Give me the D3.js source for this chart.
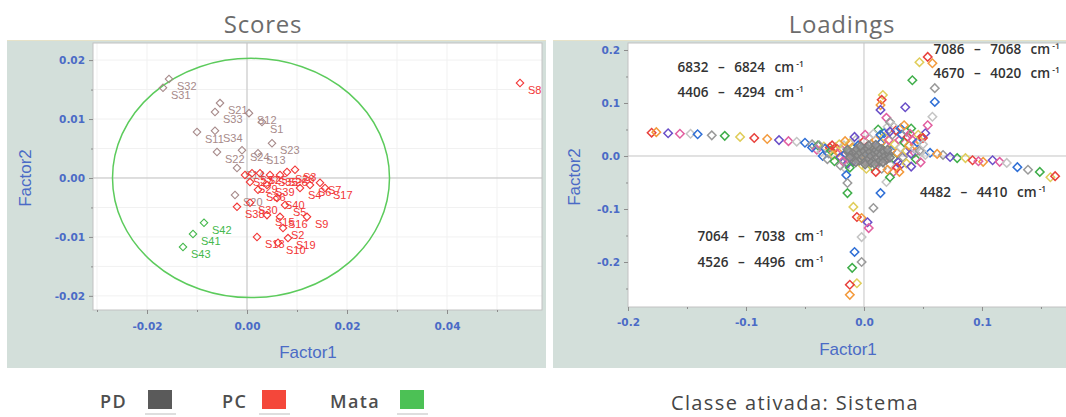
<!DOCTYPE html>
<html>
<head>
<meta charset="utf-8">
<script src="https://cdn.jsdelivr.net/npm/d3@7"></script>
<style>
  html, body { margin: 0; padding: 0; background: #fff; }
  svg { display: block; }
</style>
</head>
<body>
<svg id="chart" width="1066" height="417"></svg>
<script>
// ---------- Scores: samples on Factor1 / Factor2 ----------
// [label, factor1, factor2]
const pdSamples = [
  ["S32", -0.0156, 0.0168], ["S31", -0.0168, 0.0153], ["S21", -0.0054, 0.0127],
  ["S33", -0.0064, 0.0112], ["S12", 0.0004, 0.0110], ["S1", 0.0030, 0.0095],
  ["S11", -0.0100, 0.0078], ["S34", -0.0064, 0.0080], ["S23", 0.0050, 0.0059],
  ["S22", -0.0060, 0.0044], ["S24", -0.0010, 0.0047], ["S13", 0.0022, 0.0042],
  ["S14", -0.0020, 0.0017], ["S20", -0.0024, -0.0029]
];
const pcSamples = [
  ["S27", -0.0004, 0.0005], ["S37", 0.0010, 0.0008], ["S25", 0.0026, 0.0008],
  ["S35", 0.0046, 0.0005], ["S26", 0.0066, 0.0005], ["S28", 0.0080, 0.0010],
  ["S3", 0.0096, 0.0014], ["S29", 0.0006, -0.0007], ["S39", 0.0040, -0.0012],
  ["S36", 0.0022, -0.0020], ["S4", 0.0106, -0.0017], ["S6", 0.0126, -0.0012],
  ["S7", 0.0146, -0.0008], ["S17", 0.0156, -0.0017], ["S40", 0.0060, -0.0034],
  ["S5", 0.0076, -0.0046], ["S30", 0.0006, -0.0042], ["S38", -0.0020, -0.0049],
  ["S15", 0.0040, -0.0063], ["S16", 0.0066, -0.0066], ["S9", 0.0120, -0.0066],
  ["S2", 0.0072, -0.0085], ["S18", 0.0020, -0.0100], ["S10", 0.0062, -0.0110],
  ["S19", 0.0082, -0.0102], ["S8", 0.0546, 0.0161]
];
const mataSamples = [
  ["S42", -0.0086, -0.0076], ["S41", -0.0108, -0.0095], ["S43", -0.0128, -0.0117]
];
// confidence ellipse: centre and semi-axes, in factor units
const ellipseCentre = [0.0008, 0.0];
const ellipseRadii = [0.0277, 0.0203];

const scoresXTicks = [-0.02, 0.00, 0.02, 0.04];
const scoresXMinor = [-0.03, -0.01, 0.01, 0.03, 0.05];
const scoresYTicks = [-0.02, -0.01, 0.00, 0.01, 0.02];
const scoresYMinor = [-0.015, -0.005, 0.005, 0.015];

// ---------- Loadings: wavenumber variables on Factor1 / Factor2 ----------
const loadLeftArm = [
  [-0.180, 0.044], [-0.176, 0.045], [-0.166, 0.043], [-0.156, 0.042], [-0.147, 0.042],
  [-0.141, 0.041], [-0.129, 0.039], [-0.118, 0.038], [-0.105, 0.036], [-0.093, 0.034],
  [-0.082, 0.032], [-0.072, 0.030], [-0.064, 0.028], [-0.057, 0.027], [-0.050, 0.025],
  [-0.044, 0.022], [-0.039, 0.020], [-0.034, 0.018], [-0.029, 0.016], [-0.025, 0.013]
];
const loadCluster = [
  [-0.040, 0.012], [-0.036, 0.008], [-0.033, 0.014], [-0.030, 0.005], [-0.028, 0.010],
  [-0.026, 0.002], [-0.024, 0.016], [-0.022, 0.007], [-0.020, -0.002], [-0.019, 0.012],
  [-0.017, 0.020], [-0.016, 0.004], [-0.014, -0.006], [-0.013, 0.010], [-0.012, 0.024],
  [-0.011, 0.000], [-0.010, 0.016], [-0.009, -0.010], [-0.008, 0.006], [-0.007, 0.030],
  [-0.005, 0.020], [-0.004, -0.004], [-0.003, 0.010], [-0.002, -0.016], [0.000, 0.028],
  [0.000, 0.002], [0.002, 0.015], [0.003, -0.010], [0.004, 0.034], [0.005, 0.005],
  [0.006, 0.022], [0.007, -0.020], [0.008, 0.010], [0.009, -0.004], [0.010, 0.030],
  [0.011, 0.018], [0.012, -0.012], [0.013, 0.004], [0.014, 0.024], [0.015, -0.024],
  [0.016, 0.012], [0.017, 0.036], [0.018, -0.006], [0.019, 0.020], [0.020, 0.002],
  [0.021, 0.030], [0.022, -0.016], [0.023, 0.010], [0.024, 0.040], [0.025, -0.004],
  [0.026, 0.022], [0.027, 0.048], [0.028, 0.006], [0.029, -0.012], [0.030, 0.030],
  [0.031, 0.016], [0.032, 0.040], [0.033, -0.002], [0.034, 0.026], [0.036, 0.010],
  [0.037, 0.036], [0.038, 0.020], [0.040, 0.004], [0.041, 0.030], [0.043, 0.014],
  [0.045, 0.026], [0.047, 0.010], [0.044, -0.006], [0.036, -0.014], [0.028, -0.022],
  [0.020, -0.026], [-0.014, -0.014], [-0.018, -0.010],
  [0.025, 0.056], [0.031, 0.052], [0.036, 0.046], [0.040, 0.052], [0.046, 0.040],
  [0.050, 0.034], [0.034, 0.058], [0.022, 0.046], [0.039, 0.042], [0.050, 0.022],
  [-0.035, 0.000], [-0.031, -0.006], [-0.025, -0.010], [-0.021, 0.022], [-0.027, 0.020],
  [-0.016, 0.028], [-0.008, 0.036], [0.001, 0.040], [0.008, 0.042], [0.014, 0.040],
  [-0.020, -0.018], [-0.012, -0.022], [0.002, -0.024], [0.010, -0.030], [0.030, -0.030],
  [0.040, -0.020], [0.048, -0.012], [0.052, 0.002], [-0.044, 0.016], [-0.038, 0.020]
];
const loadUpperArm = [
  [0.047, 0.030], [0.049, 0.036], [0.043, 0.021], [0.052, 0.043], [0.054, 0.058],
  [0.058, 0.074], [0.060, 0.102], [0.060, 0.128], [0.041, 0.143], [0.047, 0.177],
  [0.054, 0.187], [0.058, 0.175], [0.035, 0.092]
];
const loadUpperStem = [
  [0.016, 0.115], [0.015, 0.106], [0.014, 0.096], [0.014, 0.087], [0.019, 0.072],
  [0.020, 0.055], [0.017, 0.043], [0.022, 0.064], [0.012, 0.050]
];
const loadRightArm = [
  [0.035, 0.008], [0.043, 0.006], [0.049, 0.008], [0.056, 0.006], [0.067, 0.002],
  [0.079, -0.004], [0.086, -0.004], [0.092, -0.008], [0.101, -0.011], [0.109, -0.008],
  [0.115, -0.011], [0.121, -0.013], [0.130, -0.021], [0.139, -0.026], [0.149, -0.030],
  [0.158, -0.040], [0.162, -0.038], [0.062, 0.004], [0.073, -0.002], [0.097, -0.010]
];
const loadDownArm = [
  [-0.016, -0.023], [-0.015, -0.036], [-0.014, -0.051], [-0.014, -0.070], [-0.009, -0.096],
  [-0.006, -0.115], [-0.002, -0.117], [0.003, -0.125], [0.004, -0.136], [-0.002, -0.153],
  [-0.008, -0.181], [-0.002, -0.200], [-0.010, -0.211], [-0.006, -0.240], [-0.012, -0.243],
  [-0.012, -0.262]
];
const loadDiagArm = [
  [0.031, -0.017], [0.025, -0.030], [0.019, -0.049], [0.014, -0.070], [0.008, -0.098],
  [0.022, -0.040]
];
const loadCore = [
  [-0.010, 0.002], [-0.008, 0.008], [-0.008, -0.004], [-0.006, 0.013], [-0.005, 0.001],
  [-0.004, -0.009], [-0.003, 0.006], [-0.002, 0.015], [-0.001, -0.002], [0.000, 0.009],
  [0.001, -0.011], [0.002, 0.003], [0.003, 0.014], [0.004, -0.005], [0.005, 0.008],
  [0.006, 0.000], [0.007, 0.016], [0.008, -0.008], [0.009, 0.005], [0.010, 0.011],
  [0.011, -0.003], [0.012, 0.007], [0.013, -0.010], [0.014, 0.002], [0.015, 0.013],
  [0.016, -0.004], [0.017, 0.008], [0.018, 0.000], [0.019, -0.007], [-0.007, -0.012],
  [0.006, -0.013], [0.012, 0.017], [-0.013, 0.006], [-0.012, -0.003], [-0.014, 0.012],
  [0.021, 0.004], [0.022, -0.003], [0.020, 0.012], [0.004, 0.020], [-0.003, 0.019],
  [0.010, 0.021], [0.001, -0.016], [0.009, -0.015], [0.016, -0.012]
];
// wavenumber ranges marked on the loadings plot, with anchor positions (factor units)
const bandRanges = [
  ["6832", "6824"], ["4406", "4294"], ["7086", "7068"], ["4670", "4020"],
  ["4482", "4410"], ["7064", "7038"], ["4526", "4496"]
];
const bandAnchors = [
  [-0.158, 0.158], [-0.158, 0.111], [0.059, 0.193], [0.059, 0.147],
  [0.0475, -0.078], [-0.141, -0.161], [-0.141, -0.209]
];

const loadXTicks = [-0.2, -0.1, 0.0, 0.1];
const loadXMinor = [-0.15, -0.05, 0.05, 0.15];
const loadYTicks = [-0.2, -0.1, 0.0, 0.1, 0.2];
const loadYMinor = [-0.25, -0.15, -0.05, 0.05, 0.15];

const legendNames = ["PD", "PC", "Mata"];
const footerText = "Classe ativada: Sistema";

// ---------- styling ----------
const FRAME_FILL = "#d3dfda";
const AXIS_BLUE = "#4b6bc6";
const PD_COLOR = "#a78a8a";
const PC_COLOR = "#f23636";
const MATA_COLOR = "#44b84c";
const LEGEND_COLORS = ["#5a5a5a", "#f4473a", "#4cc155"];
const LOAD_PALETTE = ["#e8413c", "#3fae4a", "#2f6fd6", "#e25fa0", "#f39a3c",
                      "#e0cd5a", "#9a9a9a", "#c4c4c4", "#6a4fc8"];

const svg = d3.select("#chart");
const diamond = size => d3.symbol().type(d3.symbolSquare).size(size)();

function styleAxis(g) {
  g.select(".domain").remove();
  g.selectAll(".tick line").attr("stroke", "#8c8c8c");
  g.selectAll(".tick text")
    .attr("fill", AXIS_BLUE)
    .style("font-family", "DejaVu Sans")
    .style("font-weight", "bold")
    .style("font-size", "10.5px");
}

function drawAxes(x, y, box, fmt, xMajor, xMinor, yMajor, yMinor, padX) {
  const gx = svg.append("g").attr("transform", `translate(0,${box.bottom})`)
    .call(d3.axisBottom(x).tickValues(xMajor).tickSize(4).tickPadding(padX).tickFormat(fmt));
  styleAxis(gx);
  const gxm = svg.append("g").attr("transform", `translate(0,${box.bottom})`)
    .call(d3.axisBottom(x).tickValues(xMinor.filter(v => x(v) <= box.right)).tickSize(2).tickFormat(""));
  styleAxis(gxm);
  const gy = svg.append("g").attr("transform", `translate(${box.left},0)`)
    .call(d3.axisLeft(y).tickValues(yMajor).tickSize(4).tickPadding(4).tickFormat(fmt));
  styleAxis(gy);
  const gym = svg.append("g").attr("transform", `translate(${box.left},0)`)
    .call(d3.axisLeft(y).tickValues(yMinor).tickSize(2).tickFormat(""));
  styleAxis(gym);
}

function drawFrame(fx, fw, box, clipId) {
  svg.append("rect").attr("x", fx).attr("y", 40).attr("width", fw).attr("height", 328)
    .attr("fill", FRAME_FILL);
  svg.append("line").attr("x1", fx).attr("x2", fx + fw).attr("y1", 40.5).attr("y2", 40.5)
    .attr("stroke", "#e6e2c8").attr("stroke-width", 1);
  svg.append("rect").attr("x", box.left).attr("y", box.top)
    .attr("width", box.right - box.left).attr("height", box.bottom - box.top)
    .attr("fill", "#fff");
  svg.append("clipPath").attr("id", clipId).append("rect")
    .attr("x", box.left).attr("y", box.top)
    .attr("width", box.right - box.left).attr("height", box.bottom - box.top);
}

function axisTitles(cx, bottomY, leftX, midY) {
  svg.append("text").attr("x", cx).attr("y", bottomY).attr("text-anchor", "middle")
    .attr("fill", AXIS_BLUE).style("font-family", "Liberation Sans").style("font-size", "17px")
    .text("Factor1");
  svg.append("text").attr("transform", `translate(${leftX},${midY}) rotate(-90)`)
    .attr("text-anchor", "middle")
    .attr("fill", AXIS_BLUE).style("font-family", "Liberation Sans").style("font-size", "17px")
    .text("Factor2");
}

function panelTitle(cx, text) {
  svg.append("text").attr("x", cx).attr("y", 33).attr("text-anchor", "middle")
    .attr("fill", "#6c6c6c").style("font-family", "Open Sans").style("font-size", "24px")
    .style("letter-spacing", "0.8px").text(text);
}

const fmt2 = d => d.toFixed(2);
const fmt1 = d => d.toFixed(1);

// ================= Scores panel =================
const sBox = { left: 93, right: 542, top: 43, bottom: 310 };
const sx = d3.scaleLinear().domain([-0.0308, 0.059]).range([sBox.left, sBox.right]);
const sy = d3.scaleLinear().domain([-0.0224, 0.0229]).range([sBox.bottom, sBox.top]);

panelTitle(263, "Scores");
drawFrame(7, 539, sBox, "clipScores");

const sPlot = svg.append("g").attr("clip-path", "url(#clipScores)");
// faint grid
sPlot.selectAll("line.gx").data(scoresXTicks.concat(scoresXMinor)).join("line")
  .attr("x1", d => sx(d)).attr("x2", d => sx(d)).attr("y1", sBox.top).attr("y2", sBox.bottom)
  .attr("stroke", "#f1f1f1");
sPlot.selectAll("line.gy").data(scoresYTicks.concat(scoresYMinor)).join("line")
  .attr("x1", sBox.left).attr("x2", sBox.right).attr("y1", d => sy(d)).attr("y2", d => sy(d))
  .attr("stroke", "#f1f1f1");
// zero lines
sPlot.append("line").attr("x1", sx(0)).attr("x2", sx(0)).attr("y1", sBox.top).attr("y2", sBox.bottom)
  .attr("stroke", "#c4c4c4");
sPlot.append("line").attr("x1", sBox.left).attr("x2", sBox.right).attr("y1", sy(0)).attr("y2", sy(0))
  .attr("stroke", "#c4c4c4");
// ellipse
sPlot.append("ellipse")
  .attr("cx", sx(ellipseCentre[0])).attr("cy", sy(ellipseCentre[1]))
  .attr("rx", sx(ellipseCentre[0] + ellipseRadii[0]) - sx(ellipseCentre[0]))
  .attr("ry", sy(ellipseCentre[1]) - sy(ellipseCentre[1] + ellipseRadii[1]))
  .attr("fill", "none").attr("stroke", "#5ccb5c").attr("stroke-width", 1.5);

function drawSamples(data, color) {
  const g = sPlot.append("g");
  g.selectAll("path").data(data).join("path")
    .attr("d", diamond(28))
    .attr("transform", d => `translate(${sx(d[1])},${sy(d[2])}) rotate(45)`)
    .attr("fill", "none").attr("stroke", color).attr("stroke-width", 1.1);
  g.selectAll("text").data(data).join("text")
    .attr("x", d => sx(d[1]) + 8).attr("y", d => sy(d[2]) + 11)
    .attr("fill", color).style("font-family", "Liberation Sans").style("font-size", "11px")
    .text(d => d[0]);
}
drawSamples(pdSamples, PD_COLOR);
drawSamples(pcSamples, PC_COLOR);
drawSamples(mataSamples, MATA_COLOR);

svg.append("rect").attr("x", sBox.left).attr("y", sBox.top)
  .attr("width", sBox.right - sBox.left).attr("height", sBox.bottom - sBox.top)
  .attr("fill", "none").attr("stroke", "#c2c2c2");
drawAxes(sx, sy, sBox, fmt2, scoresXTicks, scoresXMinor, scoresYTicks, scoresYMinor, 9);
axisTitles(308, 358, 31, 178);

// ================= Loadings panel =================
const lBox = { left: 628, right: 1072, top: 43, bottom: 307 };
const lx = d3.scaleLinear().domain([-0.2, 0.1763]).range([lBox.left, lBox.right]);
const ly = d3.scaleLinear().domain([-0.2849, 0.2132]).range([lBox.bottom, lBox.top]);

panelTitle(842, "Loadings");
drawFrame(553, 520, lBox, "clipLoad");

const lPlot = svg.append("g").attr("clip-path", "url(#clipLoad)");
lPlot.append("line").attr("x1", lx(0)).attr("x2", lx(0)).attr("y1", lBox.top).attr("y2", lBox.bottom)
  .attr("stroke", "#c4c4c4");
lPlot.append("line").attr("x1", lBox.left).attr("x2", lBox.right).attr("y1", ly(0)).attr("y2", ly(0))
  .attr("stroke", "#c4c4c4");

const coloured = [].concat(loadLeftArm, loadRightArm, loadDownArm, loadDiagArm,
                           loadUpperStem, loadUpperArm, loadCluster);
lPlot.append("g").selectAll("path").data(coloured).join("path")
  .attr("d", diamond(36))
  .attr("transform", d => `translate(${lx(d[0])},${ly(d[1])}) rotate(45)`)
  .attr("fill", "none")
  .attr("stroke", (d, i) => LOAD_PALETTE[(i * 4) % LOAD_PALETTE.length])
  .attr("stroke-width", 1.5);
lPlot.append("g").selectAll("path").data(loadCore).join("path")
  .attr("d", diamond(36))
  .attr("transform", d => `translate(${lx(d[0])},${ly(d[1])}) rotate(45)`)
  .attr("fill", "#9a9a9a").attr("fill-opacity", 0.7)
  .attr("stroke", "#808080").attr("stroke-width", 1.5);

// wavenumber range notes
const notes = lPlot.append("g");
bandRanges.forEach((r, i) => {
  const t = notes.append("text")
    .attr("x", lx(bandAnchors[i][0])).attr("y", ly(bandAnchors[i][1]))
    .attr("fill", "#333")
    .style("font-family", "Open Sans").style("font-weight", "600").style("font-size", "13.5px")
    .style("word-spacing", "6px");
  t.append("tspan").text(`${r[0]} \u2013 ${r[1]} cm`);
  t.append("tspan").attr("dx", 2).attr("dy", -5).style("font-size", "8.5px").text("-1");
});

svg.append("rect").attr("x", lBox.left).attr("y", lBox.top)
  .attr("width", lBox.right - lBox.left).attr("height", lBox.bottom - lBox.top)
  .attr("fill", "none").attr("stroke", "#c2c2c2");
drawAxes(lx, ly, lBox, fmt1, loadXTicks, loadXMinor, loadYTicks, loadYMinor, 8);
axisTitles(848, 355, 580, 177);

// ================= Legend and footer =================
const legendX = [100, 222, 330];
const swatchX = [148, 262, 400];
legendNames.forEach((name, i) => {
  svg.append("text").attr("x", legendX[i]).attr("y", 408)
    .attr("fill", "#4e4e4e").style("font-family", "Open Sans").style("font-weight", "600")
    .style("font-size", "18px").style("letter-spacing", "1.4px").text(name);
  svg.append("rect").attr("x", swatchX[i] - 3).attr("y", 413).attr("width", 31).attr("height", 2)
    .attr("fill", "#dedede");
  svg.append("rect").attr("x", swatchX[i]).attr("y", 390).attr("width", 24).attr("height", 19)
    .attr("fill", LEGEND_COLORS[i]);
});
svg.append("text").attr("x", 795).attr("y", 410).attr("text-anchor", "middle")
  .attr("fill", "#454545").style("font-family", "Open Sans").style("font-size", "20px")
  .style("letter-spacing", "1.4px").text(footerText);
</script>
</body>
</html>
